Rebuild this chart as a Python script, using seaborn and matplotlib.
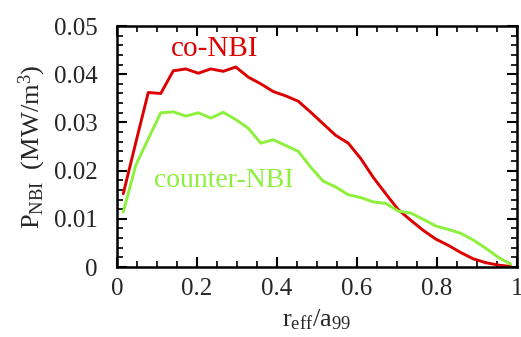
import numpy as np
import pandas as pd
import matplotlib
matplotlib.use("Agg")
import matplotlib.pyplot as plt
import seaborn as sns
from matplotlib.ticker import MultipleLocator, FuncFormatter

r_eff = [0.0156, 0.0469, 0.0781, 0.1094, 0.1406, 0.1719, 0.2031, 0.2344,
         0.2656, 0.2969, 0.3281, 0.3594, 0.3906, 0.4219, 0.4531, 0.4844,
         0.5156, 0.5469, 0.5781, 0.6094, 0.6406, 0.6719, 0.7031, 0.7344,
         0.7656, 0.7969, 0.8281, 0.8594, 0.8906, 0.9219, 0.9531, 0.9844]

co_nbi = [0.0152, 0.0258, 0.0362, 0.0360, 0.0407, 0.0411, 0.0402, 0.0411,
          0.0406, 0.0415, 0.0394, 0.0380, 0.0364, 0.0355, 0.0344, 0.0321,
          0.0297, 0.0273, 0.0257, 0.0225, 0.0186, 0.0152, 0.0119, 0.0097,
          0.0076, 0.0058, 0.0045, 0.0030, 0.0017, 0.0009, 0.0004, 0.0001]

counter_nbi = [0.0114, 0.0211, 0.0266, 0.0320, 0.0322, 0.0313, 0.0320, 0.0309,
               0.0321, 0.0306, 0.0288, 0.0257, 0.0264, 0.0252, 0.0240, 0.0207,
               0.0178, 0.0166, 0.0150, 0.0144, 0.0135, 0.0132, 0.0116, 0.0112,
               0.0099, 0.0085, 0.0078, 0.0070, 0.0056, 0.0039, 0.0020, 0.0006]

series_names = ["co-NBI", "counter-NBI"]
colors = {"co-NBI": "#DD0000", "counter-NBI": "#8CF03C"}

df = pd.DataFrame({
    "r": r_eff * 2,
    "P": co_nbi + counter_nbi,
    "beam": [series_names[0]] * len(r_eff) + [series_names[1]] * len(r_eff),
})

sns.set_style("ticks")
plt.rcParams["font.family"] = ["Liberation Serif", "DejaVu Serif"]
plt.rcParams["mathtext.fontset"] = "custom"
plt.rcParams["mathtext.rm"] = "Liberation Serif"
plt.rcParams["mathtext.it"] = "Liberation Serif:italic"

fig = plt.figure(figsize=(5.21, 3.37), dpi=100)
ax = fig.add_axes([0.2246, 0.2077, 0.7677, 0.7151])

sns.lineplot(data=df, x="r", y="P", hue="beam", palette=colors,
             linewidth=2.1, legend=False, ax=ax)

ax.set_xlim(0, 1)
ax.set_ylim(0, 0.05)
ax.xaxis.set_major_locator(MultipleLocator(0.2))
ax.xaxis.set_minor_locator(MultipleLocator(0.05))
ax.yaxis.set_major_locator(MultipleLocator(0.01))
ax.yaxis.set_minor_locator(MultipleLocator(0.002))
ax.xaxis.set_major_formatter(FuncFormatter(lambda v, p: f"{round(v, 2):g}"))
ax.yaxis.set_major_formatter(FuncFormatter(lambda v, p: f"{round(v, 3):g}"))

ax.tick_params(which="both", direction="in", top=True, right=True,
               labelsize=18, color="black")
ax.tick_params(axis="y", which="both", pad=14)
ax.tick_params(axis="x", which="both", pad=8)
ax.tick_params(which="major", length=7, width=1.5)
ax.tick_params(which="minor", length=4, width=1.2)
for s in ax.spines.values():
    s.set_linewidth(1.8)
    s.set_color("black")

ax.set_xlabel(r"$\mathregular{r_{eff}/a_{99}}$", fontsize=19, labelpad=5)
ax.set_ylabel(r"$\mathregular{P_{NBI}\ \ (MW/m^3)}$", fontsize=19, labelpad=4)

ax.text(0.245, 0.0452, "co-NBI", color=colors["co-NBI"], fontsize=21,
        ha="center", va="center")
ax.text(0.2675, 0.018, "counter-NBI", color=colors["counter-NBI"], fontsize=20,
        ha="center", va="center")

fig.savefig("out.png", dpi=100)
